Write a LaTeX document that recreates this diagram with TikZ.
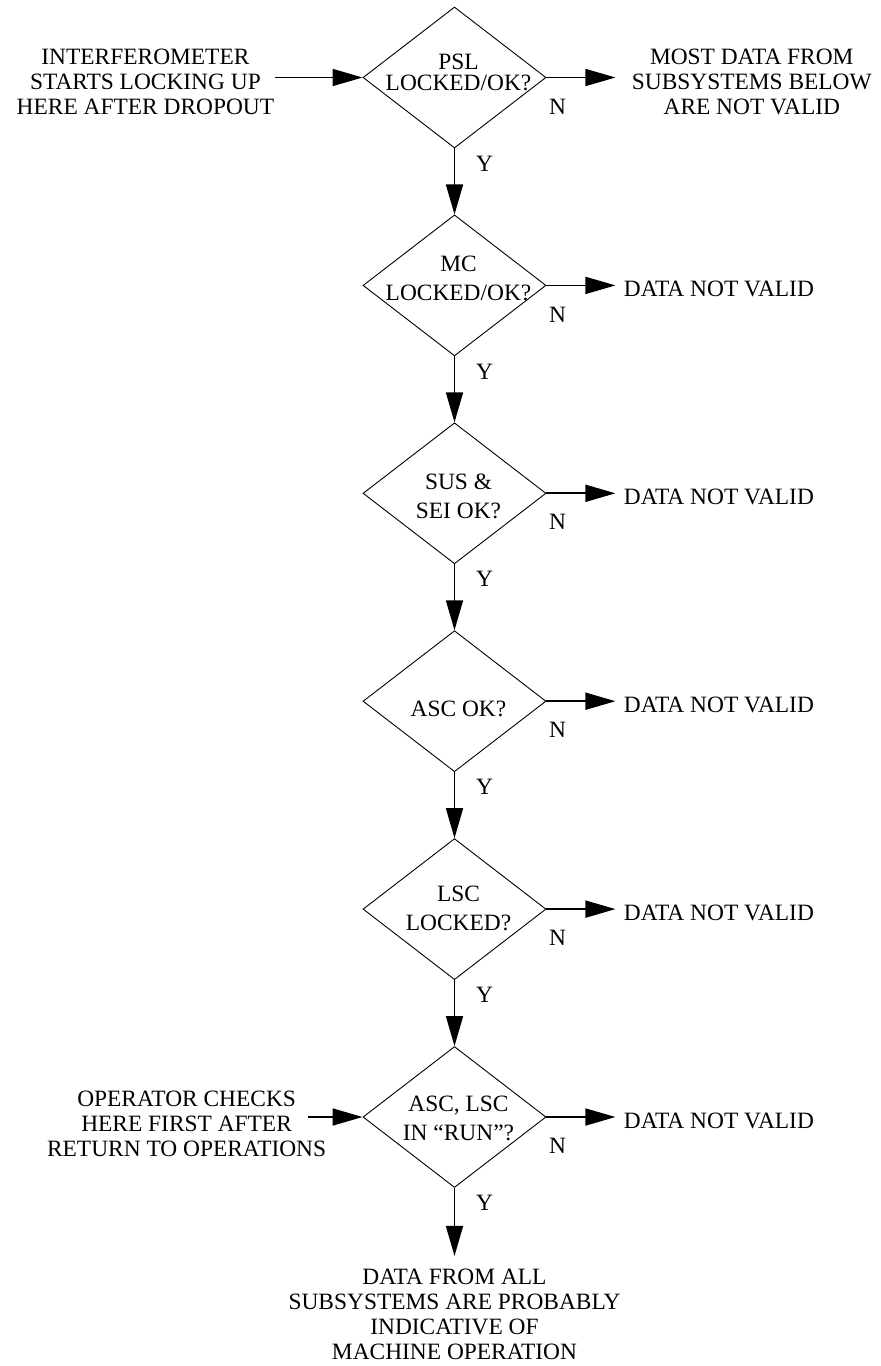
\documentclass[tikz,border=0pt]{standalone}
\usepackage{fontspec}
\setmainfont{Liberation Serif}
\usetikzlibrary{arrows.meta,positioning,shapes.geometric}

\begin{document}
\begin{tikzpicture}[
          font=\fontsize{11.7}{12.5}\selectfont,
          decision/.style={diamond, draw, line width=0.45pt,
                      minimum width=91.5pt, minimum height=70.5pt,
                      inner sep=0pt},
          dtext/.style={align=center, inner sep=0pt, xshift=2pt},
          outcome/.style={align=center, inner sep=4pt, yshift=-2pt},
          source/.style={align=center, inner sep=0pt},
          yn/.style={inner sep=0pt},
          arr/.style={-{Triangle[length=15pt, width=8.5pt]}, line width=0.85pt}
        ]
          \useasboundingbox (0,0) rectangle (440pt,-683pt);
          % the chain of checks
          \node[decision] (psl) at (227.25pt,-38.75pt) {};
          \node[decision, below=33pt of psl] (mc)  {};
          \node[decision, below=33pt of mc]  (sus) {};
          \node[decision, below=33pt of sus] (asc) {};
          \node[decision, below=33pt of asc] (lsc) {};
          \node[decision, below=33pt of lsc] (run) {};
          \node[dtext, yshift=2.5pt]  (psl-t) at (psl) {PSL\\[-2pt]LOCKED/OK?};
          \node[dtext, yshift=3.5pt]  (mc-t)  at (mc)  {MC\\[2pt]LOCKED/OK?};
          \node[dtext, yshift=-1.5pt] (sus-t) at (sus) {SUS \&\\[2pt]SEI OK?};
          \node[dtext, yshift=-4pt]   (asc-t) at (asc) {ASC OK?};
          \node[dtext, yshift=0.5pt]  (lsc-t) at (lsc) {LSC\\[2pt]LOCKED?};
          \node[dtext, yshift=-0.5pt] (run-t) at (run) {ASC, LSC\\[2pt]IN “RUN”?};
          % entry points
          \node[source, left=44pt of psl, yshift=-2pt] (start)
            {INTERFEROMETER\\STARTS LOCKING UP\\HERE AFTER DROPOUT};
          \node[source, left=18pt of run, yshift=-3.5pt] (oper)
            {OPERATOR CHECKS\\HERE FIRST AFTER\\RETURN TO OPERATIONS};
          % outcomes
          \node[outcome, right=38.5pt of psl] (psl-no)
            {MOST DATA FROM\\SUBSYSTEMS BELOW\\ARE NOT VALID};
          \node[outcome, right=34.5pt of mc]  (mc-no)  {DATA NOT VALID};
          \node[outcome, right=34.5pt of sus] (sus-no) {DATA NOT VALID};
          \node[outcome, right=34.5pt of asc] (asc-no) {DATA NOT VALID};
          \node[outcome, right=34.5pt of lsc] (lsc-no) {DATA NOT VALID};
          \node[outcome, right=34.5pt of run] (run-no) {DATA NOT VALID};
          \node[source, below=40.5pt of run] (final)
            {DATA FROM ALL\\SUBSYSTEMS ARE PROBABLY\\INDICATIVE OF\\MACHINE OPERATION};
          % arrows
          \draw[arr] (start.east |- psl) -- (psl);
          \draw[arr] (oper.east |- run) ++(-9.5pt,0) -- (run);
          \draw[arr] (psl) -- node[yn, pos=0, xshift=15pt, yshift=-7.5pt] (psl-y) {Y} (mc);
          \draw[arr] (mc)  -- node[yn, pos=0, xshift=15pt, yshift=-7.5pt] (mc-y)  {Y} (sus);
          \draw[arr] (sus) -- node[yn, pos=0, xshift=15pt, yshift=-7.5pt] (sus-y) {Y} (asc);
          \draw[arr] (asc) -- node[yn, pos=0, xshift=15pt, yshift=-7.5pt] (asc-y) {Y} (lsc);
          \draw[arr] (lsc) -- node[yn, pos=0, xshift=15pt, yshift=-7.5pt] (lsc-y) {Y} (run);
          \draw[arr, shorten >=6.5pt] (run) -- node[yn, pos=0, xshift=15pt, yshift=-7.5pt] (run-y) {Y} (final);
          \draw[arr, shorten >=4pt] (psl.east) -- node[yn, pos=0, xshift=5.5pt, yshift=-14.5pt] (psl-n) {N} (psl.east -| psl-no.west);
          \draw[arr] (mc.east)  -- node[yn, pos=0, xshift=5.5pt, yshift=-14.5pt] (mc-n)  {N} (mc.east -| mc-no.west);
          \draw[arr] (sus.east) -- node[yn, pos=0, xshift=5.5pt, yshift=-14.5pt] (sus-n) {N} (sus.east -| sus-no.west);
          \draw[arr] (asc.east) -- node[yn, pos=0, xshift=5.5pt, yshift=-14.5pt] (asc-n) {N} (asc.east -| asc-no.west);
          \draw[arr] (lsc.east) -- node[yn, pos=0, xshift=5.5pt, yshift=-14.5pt] (lsc-n) {N} (lsc.east -| lsc-no.west);
          \draw[arr] (run.east) -- node[yn, pos=0, xshift=5.5pt, yshift=-14.5pt] (run-n) {N} (run.east -| run-no.west);
        \end{tikzpicture}
\end{document}
